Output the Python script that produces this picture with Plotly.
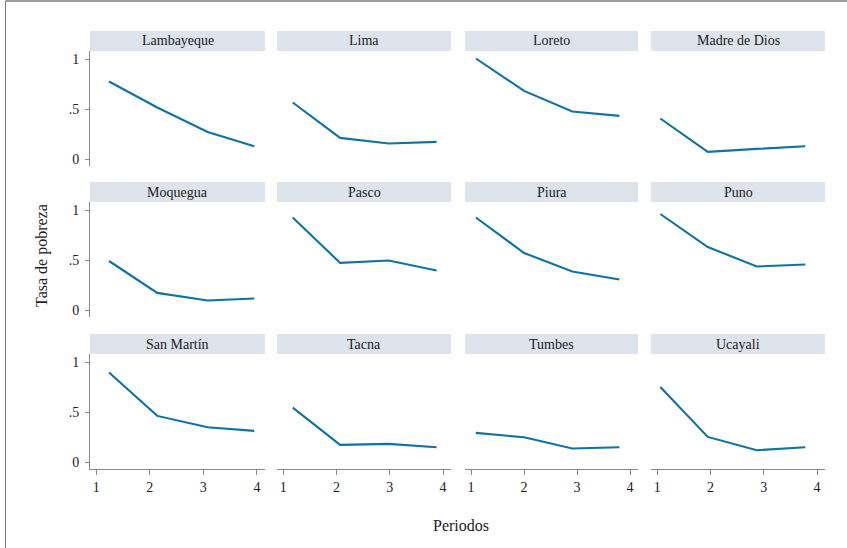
import plotly.graph_objects as go

W, H = 847, 548

# ---------------- data ----------------
regiones = ["Lambayeque", "Lima", "Loreto", "Madre de Dios",
            "Moquegua", "Pasco", "Piura", "Puno",
            "San Martín", "Tacna", "Tumbes", "Ucayali"]

# x positions (periodos) as drawn in each column of panels
periodos_col1 = [1.24, 2.14, 3.08, 3.95]
periodos_col2 = [1.18, 2.07, 2.98, 3.88]
periodos_col3 = [1.09, 2.00, 2.91, 3.80]
periodos_col4 = [1.06, 1.95, 2.87, 3.78]
periodos_cols = [periodos_col1, periodos_col2, periodos_col3, periodos_col4]

tasa_lambayeque = [0.78, 0.52, 0.275, 0.133]
tasa_lima = [0.57, 0.216, 0.16, 0.176]
tasa_loreto = [1.01, 0.686, 0.48, 0.436]
tasa_madre_de_dios = [0.41, 0.076, 0.106, 0.133]
tasa_moquegua = [0.495, 0.176, 0.10, 0.12]
tasa_pasco = [0.93, 0.476, 0.50, 0.40]
tasa_piura = [0.93, 0.575, 0.39, 0.31]
tasa_puno = [0.965, 0.635, 0.44, 0.46]
tasa_san_martin = [0.90, 0.466, 0.352, 0.316]
tasa_tacna = [0.548, 0.176, 0.186, 0.153]
tasa_tumbes = [0.296, 0.252, 0.14, 0.153]
tasa_ucayali = [0.755, 0.256, 0.123, 0.153]

tasas = [tasa_lambayeque, tasa_lima, tasa_loreto, tasa_madre_de_dios,
         tasa_moquegua, tasa_pasco, tasa_piura, tasa_puno,
         tasa_san_martin, tasa_tacna, tasa_tumbes, tasa_ucayali]

x_ticks = [1, 2, 3, 4]
x_ticktext = ["1", "2", "3", "4"]
y_ticks = [0, 0.5, 1]
y_ticktext = ["0", ".5", "1"]

# ---------------- layout geometry (pixels) ----------------
col_px = [(90, 265), (277, 451), (465, 638), (651, 825)]
row_px = [(51, 166), (202, 317), (354, 469)]   # plot area (top, bottom)
strip_h = 20

LINE = "#0d73a6"
STRIP = "#dde4ec"
TXT = "#222222"
AX = "#8a8a8a"
FONT = "Liberation Serif, Times New Roman, DejaVu Serif, serif"

def px_x(p):
    return p / W

def px_y(p):
    return 1 - p / H

fig = go.Figure()
layout = dict(
    width=W, height=H,
    margin=dict(l=0, r=0, t=0, b=0),
    paper_bgcolor="white", plot_bgcolor="white",
    showlegend=False,
    font=dict(family=FONT, color=TXT, size=14),
)
shapes = []
annotations = []

for i, (reg, tasa) in enumerate(zip(regiones, tasas)):
    r, c = divmod(i, 4)
    n = i + 1
    xa = "xaxis" if n == 1 else f"xaxis{n}"
    ya = "yaxis" if n == 1 else f"yaxis{n}"
    xref = "x" if n == 1 else f"x{n}"
    yref = "y" if n == 1 else f"y{n}"

    fig.add_trace(go.Scatter(
        x=periodos_cols[c], y=tasa, mode="lines",
        line=dict(color=LINE, width=2.1),
        xaxis=xref, yaxis=yref, hoverinfo="skip",
    ))

    x0, x1 = col_px[c]
    top, bot = row_px[r]
    show_x = (r == 2)
    show_y = (c == 0)

    layout[xa] = dict(
        domain=[px_x(x0), px_x(x1)], anchor=yref,
        range=[0.885, 4.15], showgrid=False, zeroline=False,
        showline=show_x, linecolor=AX, linewidth=1,
        ticks="outside" if show_x else "", ticklen=5, tickcolor=AX,
        tickvals=x_ticks, ticktext=x_ticktext,
        showticklabels=show_x, tickfont=dict(size=14, color=TXT, family=FONT),
        fixedrange=True,
    )
    layout[ya] = dict(
        domain=[px_y(bot), px_y(top)], anchor=xref,
        range=[-0.065, 1.085], showgrid=False, zeroline=False,
        showline=show_y, linecolor=AX, linewidth=1,
        ticks="outside" if show_y else "", ticklen=4, tickcolor=AX,
        tickvals=y_ticks, ticktext=y_ticktext,
        showticklabels=show_y, tickfont=dict(size=14, color=TXT, family=FONT),
        ticklabelstandoff=3, fixedrange=True,
    )

    # strip header
    shapes.append(dict(
        type="rect", xref="paper", yref="paper",
        x0=px_x(x0), x1=px_x(x1), y0=px_y(top), y1=px_y(top - strip_h),
        fillcolor=STRIP, line=dict(width=0), layer="below",
    ))
    annotations.append(dict(
        text=reg, xref="paper", yref="paper",
        x=px_x((x0 + x1) / 2), y=px_y(top - strip_h / 2),
        xanchor="center", yanchor="middle", showarrow=False,
        font=dict(size=14, color=TXT, family=FONT),
    ))

# axis titles
annotations.append(dict(
    text="Tasa de pobreza", xref="paper", yref="paper",
    x=px_x(42), y=px_y(256), textangle=-90,
    xanchor="center", yanchor="middle", showarrow=False,
    font=dict(size=16, color=TXT, family=FONT),
))
annotations.append(dict(
    text="Periodos", xref="paper", yref="paper",
    x=px_x(461), y=px_y(525),
    xanchor="center", yanchor="middle", showarrow=False,
    font=dict(size=16, color=TXT, family=FONT),
))

# outer frame lines (top and left)
shapes.append(dict(type="line", xref="paper", yref="paper",
                   x0=px_x(5.5), x1=1.0, y0=px_y(1), y1=px_y(1),
                   line=dict(color="#7a7a7a", width=1.5)))
shapes.append(dict(type="line", xref="paper", yref="paper",
                   x0=px_x(5.5), x1=px_x(5.5), y0=px_y(1), y1=0.0,
                   line=dict(color="#7a7a7a", width=1)))

layout["shapes"] = shapes
layout["annotations"] = annotations
fig.update_layout(**layout)

fig.write_html(
    "out.html",
    config={"displayModeBar": False},
    post_script="document.body.style.margin='0';document.body.style.overflow='hidden';",
)
